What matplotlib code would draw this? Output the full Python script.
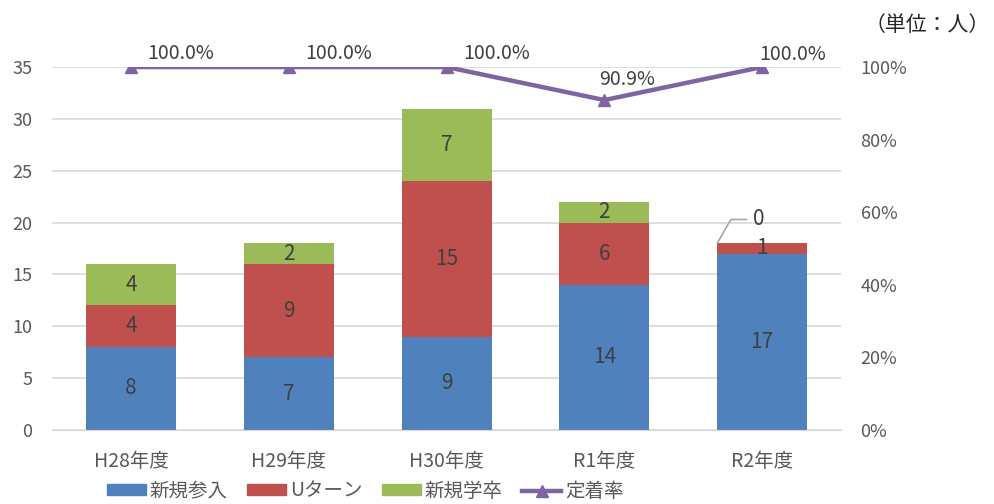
import matplotlib
matplotlib.use("Agg")
import matplotlib.pyplot as plt
from matplotlib.lines import Line2D
from matplotlib.patches import Patch

plt.rcParams['font.family'] = ['Noto Sans CJK JP', 'DejaVu Sans']

# data
years = ['H28年度', 'H29年度', 'H30年度', 'R1年度', 'R2年度']
shinki = [8, 7, 9, 14, 17]
uturn = [4, 9, 15, 6, 1]
gakusotsu = [4, 2, 7, 2, 0]
teichaku = [1.0, 1.0, 1.0, 0.909, 1.0]

blue = '#4F81BD'
red = '#C0504D'
green = '#9BBB59'
purple = '#8064A2'
grey = '#595959'
dark = '#404040'

fig = plt.figure(figsize=(9.95, 5.04), dpi=100)
ax = fig.add_axes([0.0523, 0.147, 0.793, 0.72])
ax2 = ax.twinx()

x = list(range(len(years)))
w = 0.57
bottom2 = [a + b for a, b in zip(shinki, uturn)]
ax.bar(x, shinki, w, color=blue, zorder=2)
ax.bar(x, uturn, w, bottom=shinki, color=red, zorder=2)
ax.bar(x, gakusotsu, w, bottom=bottom2, color=green, zorder=2)

# labels inside bars
for i in x:
    segs = [(0, shinki[i]), (shinki[i], uturn[i]), (bottom2[i], gakusotsu[i])]
    for b, h in segs:
        if h == 0:
            continue
        ax.text(i, b + h / 2, str(h), ha='center', va='center',
                fontsize=15, color=dark, zorder=3)

# zero label with leader line for R2
i = 4
top = bottom2[i]
ax.annotate(str(gakusotsu[i]), xy=(i - w / 2, top), xytext=(i - w / 2 + 0.23, top + 2.3),
            ha='left', va='center', fontsize=15, color=dark,
            arrowprops=dict(arrowstyle='-', color='#A6A6A6', lw=1.2,
                            connectionstyle='angle,angleA=0,angleB=60,rad=0',
                            shrinkA=3, shrinkB=0))

ax.set_xlim(-0.5, 4.5)
ax.set_ylim(0, 35)
ax.set_yticks(range(0, 36, 5))
ax.set_xticks(x)
ax.set_xticklabels(years)
ax.grid(axis='y', color='#D9D9D9', lw=1.2, zorder=0)
ax.set_axisbelow(True)
for s in ['top', 'right', 'left']:
    ax.spines[s].set_visible(False)
ax.spines['bottom'].set_color('#D9D9D9')
ax.tick_params(axis='x', length=0, labelsize=14, colors=grey, pad=15)
ax.tick_params(axis='y', length=0, labelsize=13, colors=grey, pad=14)

ax2.plot(x, teichaku, color=purple, lw=3.2, marker='^', markersize=9, zorder=4)
ax2.set_ylim(0, 1.0)
ax2.set_yticks([0, 0.2, 0.4, 0.6, 0.8, 1.0])
ax2.set_yticklabels(['0%', '20%', '40%', '60%', '80%', '100%'])
ax2.tick_params(axis='y', length=0, labelsize=13, colors=grey, pad=14)
for s in ax2.spines.values():
    s.set_visible(False)

offsets = [(12, 10), (12, 10), (12, 10), (-4, 15), (-2, 9)]
for i, v in enumerate(teichaku):
    ax2.annotate(f'{v * 100:.1f}%', xy=(i, v), xytext=offsets[i], textcoords='offset points',
                 ha='left', va='center', fontsize=14, color=dark, zorder=5)

fig.text(0.995, 0.95, '（単位：人）', ha='right', va='center', fontsize=15, color='#262626')

handles = [Patch(color=blue), Patch(color=red), Patch(color=green),
           Line2D([], [], color=purple, lw=3.2, marker='^', markersize=9)]
labels = ['新規参入', 'Uターン', '新規学卒', '定着率']
fig.legend(handles, labels, loc='lower center', bbox_to_anchor=(0.367, -0.03), ncol=4,
           frameon=False, fontsize=14, handlelength=2.0, handleheight=0.45,
           columnspacing=1.0, handletextpad=0.2, labelcolor=grey)

fig.savefig('out.png', dpi=100)
